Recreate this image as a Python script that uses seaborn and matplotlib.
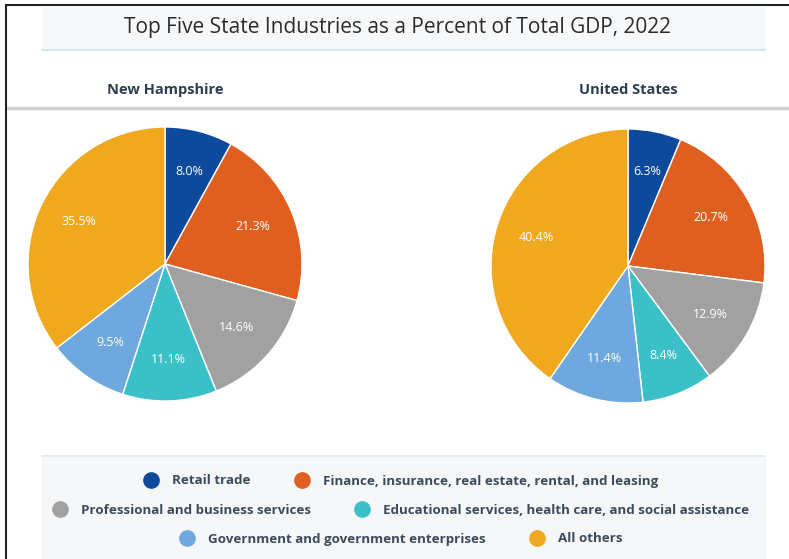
import matplotlib
matplotlib.use('Agg')
import matplotlib.pyplot as plt
from matplotlib.patches import Rectangle
from matplotlib.lines import Line2D
import seaborn as sns

industries = ['Retail trade',
              'Finance, insurance, real estate, rental, and leasing',
              'Professional and business services',
              'Educational services, health care, and social assistance',
              'Government and government enterprises',
              'All others']
nh_share = [8.0, 21.3, 14.6, 11.1, 9.5, 35.5]
us_share = [6.3, 20.7, 12.9, 8.4, 11.4, 40.4]
regions = ['New Hampshire', 'United States']
colors = ['#0e4a9b', '#df5f20', '#a1a1a1', '#3cc0c8', '#6ea8de', '#f0a81e']
legend_rows = [[0, 1], [2, 3], [4, 5]]

sns.set_theme(style='white')
plt.rcParams['font.family'] = ['Open Sans', 'DejaVu Sans']
pal = sns.color_palette(colors)

W, H = 789, 559
fig = plt.figure(figsize=(W / 100, H / 100), dpi=100)
fig.patch.set_facecolor('white')


def px(x0, y0, w, h):
    # pixel box (top-left origin) -> figure fraction
    return [x0 / W, 1 - (y0 + h) / H, w / W, h / H]


# background panels
bg = fig.add_axes([0, 0, 1, 1])
bg.set_xlim(0, W)
bg.set_ylim(H, 0)
bg.axis('off')
bg.add_patch(Rectangle((42, 8), 723, 41, color='#f6f8fa', zorder=0))
bg.plot([42, 765], [49.5, 49.5], color='#cfe0ea', lw=1.2)
bg.plot([8, W], [108, 108], color='#d3cfcf', lw=2.5)
bg.add_patch(Rectangle((42, 456), 723, 103, color='#f6f7f8', zorder=0))
bg.plot([42, 765], [456, 456], color='#e2e8ef', lw=1.2)
bg.plot([6, 6], [5, H], color='#222222', lw=1.5)
bg.plot([6, W], [5, 5], color='#222222', lw=1.5)

fig.text(397 / W, 1 - 27 / H, 'Top Five State Industries as a Percent of Total GDP, 2022',
         ha='center', va='center', fontsize=15, color='#2b2b2b')

centers = [(165, 264), (628, 266)]
r = 137
for name, vals, (cx, cy) in zip(regions, [nh_share, us_share], centers):
    ax = fig.add_axes(px(cx - r, cy - r, 2 * r, 2 * r))
    wedges, texts, autotexts = ax.pie(
        vals, colors=pal, startangle=90, counterclock=False,
        autopct='%.1f%%', pctdistance=0.7,
        wedgeprops=dict(edgecolor='white', linewidth=1),
        textprops=dict(color='white', fontsize=9))
    ax.set_xlim(-1, 1)
    ax.set_ylim(-1, 1)
    ax.set_aspect('equal')
    fig.text(cx / W, 1 - 90 / H, name, ha='center', va='center',
             fontsize=10.5, fontweight='bold', color='#2d3e50')

row_y = [481, 510, 539]
for row, y in zip(legend_rows, row_y):
    handles = [Line2D([], [], marker='o', linestyle='', markersize=11,
                      markerfacecolor=pal[i], markeredgecolor=pal[i]) for i in row]
    fig.legend(handles, [industries[i] for i in row], loc='center',
               bbox_to_anchor=(398 / W, 1 - y / H), ncol=2, frameon=False,
               handletextpad=0.6, columnspacing=2.8,
               prop=dict(weight='bold', size=9.6))
for leg in fig.legends:
    for t in leg.get_texts():
        t.set_color('#3b4a5c')

fig.savefig('out.png', dpi=100)
